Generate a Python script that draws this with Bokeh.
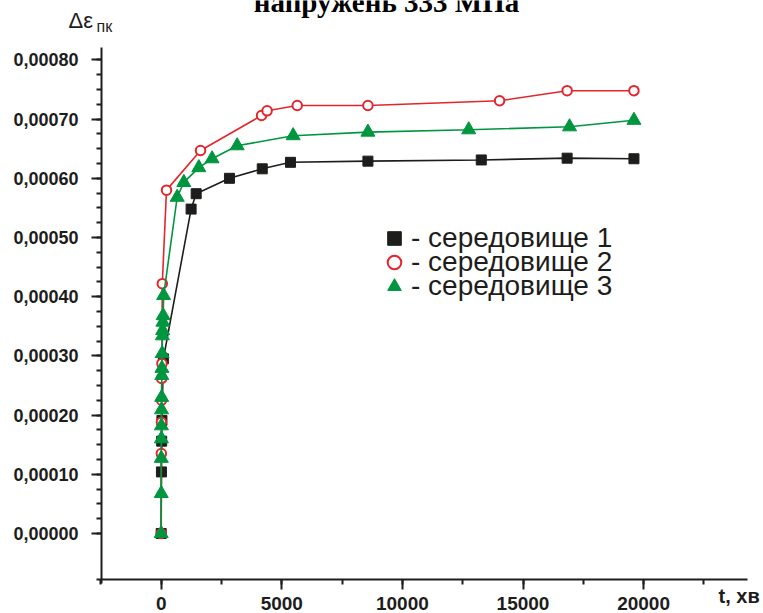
import numpy as np
from bokeh.plotting import figure
from bokeh.models import (Range1d, FixedTicker, CustomJSTickFormatter,
                          Label, Legend, LegendItem)
from bokeh.embed import file_html
from bokeh.resources import INLINE

# ---- data (t in minutes, strain increment) ----
t_env1 = [0, 10, 20, 30, 90, 1240, 1450, 2830, 4190, 5360, 8570, 13270, 16830, 19600]
e_env1 = [0.0, 0.000104, 0.000156, 0.000191, 0.000295, 0.000548, 0.000574, 0.000600,
          0.000616, 0.000627, 0.000629, 0.000631, 0.000634, 0.000633]

t_env2 = [0, 5, 10, 15, 20, 30, 45, 220, 1630, 4160, 4390, 5640, 8570, 14030, 16830, 19600]
e_env2 = [0.0, 0.000135, 0.000188, 0.000225, 0.000262, 0.000287, 0.000422, 0.000580,
          0.000647, 0.000706, 0.000714, 0.000723, 0.000723, 0.000731, 0.000748, 0.000748]

t_env3 = [0, 2, 5, 8, 10, 15, 20, 25, 30, 40, 50, 60, 70, 80, 100,
          663, 937, 1560, 2110, 3150, 5470, 8570, 12750, 16930, 19600]
e_env3 = [0.0, 0.0000676, 0.000127, 0.000160, 0.000182, 0.000209, 0.000230, 0.000267,
          0.000279, 0.000304, 0.000334, 0.000343, 0.000357, 0.000368, 0.000402,
          0.000568, 0.000593, 0.000618, 0.000633, 0.000655, 0.000672, 0.000678,
          0.000682, 0.000687, 0.000698]

labels = ["- середовище 1", "- середовище 2", "- середовище 3"]
title_text = "напружень 333 МПа"
y_label_main = "Δε"
y_label_sub = "пк"
x_label = "t, хв"

x_major = [0, 5000, 10000, 15000, 20000]
y_major_step = 0.0001

BLACK = "#1d1d1b"
RED = "#e3262d"
GREEN = "#00963f"

# ---- layout: the frame covers the whole canvas, axes sit at fixed places ----
W, H = 763, 613
X_ZERO_PX, X_PX_PER_UNIT = 160.7, 120.6 / 5000
Y_ZERO_PX, Y_PX_PER_UNIT = 533.0, 59.2 / 0.0001


def px2x(px):
    return (px - X_ZERO_PX) / X_PX_PER_UNIT


def py2y(py):
    return (Y_ZERO_PX - py) / Y_PX_PER_UNIT


AX_LEFT, AX_RIGHT, AX_TOP, AX_BOTTOM = 101, 747, 47, 579

p = figure(width=W, height=H,
           x_range=Range1d(px2x(0), px2x(W)), y_range=Range1d(py2y(H), py2y(0)),
           output_backend="svg", toolbar_location=None,
           min_border=0, min_border_left=0, min_border_right=0,
           min_border_top=0, min_border_bottom=0)
p.grid.visible = False
p.outline_line_color = None
p.background_fill_color = "white"
p.border_fill_color = "white"

xax = p.xaxis[0]
yax = p.yaxis[0]
xax.fixed_location = py2y(AX_BOTTOM)
yax.fixed_location = px2x(AX_LEFT)
xax.bounds = (px2x(96), px2x(AX_RIGHT))
yax.bounds = (py2y(583), py2y(AX_TOP))

xax.ticker = FixedTicker(ticks=x_major,
                         minor_ticks=list(np.arange(-2500, 24000, 2500)))
y_top = py2y(AX_TOP)
yax.ticker = FixedTicker(ticks=list(np.arange(0, y_top, y_major_step)),
                         minor_ticks=list(np.arange(0, y_top, y_major_step / 4)))
yax.formatter = CustomJSTickFormatter(
    code="return Math.abs(tick) < 1e-12 ? '0,00000' : tick.toFixed(5).replace('.', ',');")
xax.formatter = CustomJSTickFormatter(code="return Math.round(tick).toString();")

for ax in (xax, yax):
    ax.axis_line_width = 2
    ax.axis_line_color = BLACK
    ax.major_tick_line_width = 2
    ax.minor_tick_line_width = 2
    ax.major_tick_line_color = BLACK
    ax.minor_tick_line_color = BLACK
    ax.major_tick_out = 10
    ax.major_tick_in = 0
    ax.minor_tick_out = 5
    ax.minor_tick_in = 0
    ax.major_label_text_font = "Liberation Sans"
    ax.major_label_text_font_style = "bold"
    ax.major_label_text_color = BLACK

yax.major_label_text_font_size = "18px"
yax.major_label_standoff = 13
xax.major_label_text_font_size = "19px"
xax.major_label_standoff = 7

# ---- series ----
p.line(t_env1, e_env1, line_color=BLACK, line_width=1.6)
r1 = p.scatter(t_env1, e_env1, marker="square", size=10, fill_color=BLACK,
               line_color=BLACK, line_width=1)
p.line(t_env2, e_env2, line_color=RED, line_width=1.6)
r2 = p.scatter(t_env2, e_env2, marker="circle", size=9.5, fill_color="white",
               line_color=RED, line_width=2)
p.line(t_env3, e_env3, line_color=GREEN, line_width=1.6)
r3 = p.scatter(t_env3, e_env3, marker="triangle", size=14, fill_color=GREEN,
               line_color=GREEN, line_width=1)

# ---- legend: one box per row so the rows can sit close together ----
GLYPH = 34
leg_center_x = 394
row_centers = [237.5, 262, 285.5]
for lab, rend, yc in zip(labels, [r1, r2, r3], row_centers):
    leg = Legend(items=[LegendItem(label=lab, renderers=[rend])],
                 location=(leg_center_x - GLYPH / 2, H - (yc + GLYPH / 2)),
                 glyph_width=GLYPH, glyph_height=GLYPH, spacing=0, padding=0, margin=0,
                 label_standoff=0, label_text_font="Liberation Sans",
                 label_text_font_size="28px", label_text_color=BLACK,
                 border_line_color=None, background_fill_alpha=0)
    p.add_layout(leg, "center")

# ---- texts ----
p.add_layout(Label(x=px2x(386), y=py2y(1), text=title_text, text_align="center",
                   text_baseline="alphabetic", text_font="Liberation Serif",
                   text_font_style="bold", text_font_size="29px", text_color="black"))
p.add_layout(Label(x=px2x(68), y=py2y(20), text=y_label_main, text_baseline="alphabetic",
                   text_font="Liberation Sans", text_font_size="22px", text_color=BLACK))
p.add_layout(Label(x=px2x(96), y=py2y(26), text=y_label_sub, text_baseline="alphabetic",
                   text_font="Liberation Sans", text_font_size="16px", text_color=BLACK))
p.add_layout(Label(x=px2x(718), y=py2y(595), text=x_label, text_baseline="alphabetic",
                   text_font="Liberation Sans", text_font_style="bold",
                   text_font_size="20px", text_color=BLACK))

open("out.html", "w").write(file_html(p, INLINE))
